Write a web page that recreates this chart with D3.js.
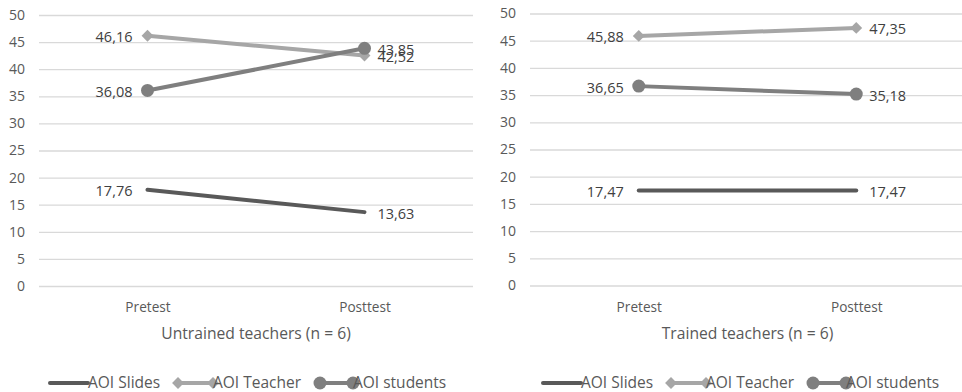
<!DOCTYPE html>
<html>
<head>
<meta charset="utf-8">
<script src="https://cdn.jsdelivr.net/npm/d3@7"></script>
<style>
  html, body { margin: 0; padding: 0; background: #fff; }
  svg { display: block; }
  .narrow { font-family: "Open Sans", sans-serif; }
</style>
</head>
<body>
<svg id="chart" width="962" height="392"></svg>
<script>
// Time categories and y ticks
const phases = ["Pretest", "Posttest"];
const yTicks = [0, 5, 10, 15, 20, 25, 30, 35, 40, 45, 50];

// Series names
const seriesNames = ["AOI Slides", "AOI Teacher", "AOI students"];

// Untrained teachers (n = 6)
const untrainedSlides = [17.76, 13.63];
const untrainedTeacher = [46.16, 42.52];
const untrainedStudents = [36.08, 43.85];

// Trained teachers (n = 6)
const trainedSlides = [17.47, 17.47];
const trainedTeacher = [45.88, 47.35];
const trainedStudents = [36.65, 35.18];

const panelTitles = ["Untrained teachers (n = 6)", "Trained teachers (n = 6)"];

const fmt = v => d3.format(".2f")(v).replace(".", ",");

const styles = [
  { color: "#595959", marker: null },
  { color: "#a6a6a6", marker: "diamond" },
  { color: "#7f7f7f", marker: "circle" }
];

const svg = d3.select("#chart");

function drawPanel(cfg) {
  const g = svg.append("g");
  const x = d3.scalePoint().domain(phases).range([cfg.left, cfg.right]).padding(0.5);
  const y = d3.scaleLinear().domain([0, 50]).range([cfg.bottom, cfg.top]);

  // gridlines + y labels
  const yAxis = g.append("g")
    .attr("transform", `translate(${cfg.left},0)`)
    .call(d3.axisLeft(y).tickValues(yTicks).tickSize(-(cfg.right - cfg.left)).tickPadding(cfg.tickPad));
  yAxis.select(".domain").remove();
  yAxis.selectAll(".tick line").attr("stroke", "#d9d9d9").attr("stroke-width", 1.3);
  yAxis.selectAll(".tick text")
    .attr("fill", "#595959")
    .style("font-family", "'Open Sans', sans-serif")
    .style("font-size", "14px");

  // x labels (slightly condensed)
  const xAxis = g.append("g")
    .attr("transform", `translate(0,${cfg.bottom})`)
    .call(d3.axisBottom(x).tickSize(0).tickPadding(16));
  xAxis.select(".domain").remove();
  xAxis.selectAll(".tick text")
    .attr("class", "narrow")
    .attr("fill", "#595959")
    .attr("transform", "scale(0.94,1)")
    .style("font-size", "14.5px");

  // panel title
  g.append("text")
    .attr("class", "narrow")
    .attr("transform", `translate(${(cfg.left + cfg.right) / 2},${cfg.bottom + 53}) scale(0.95,1)`)
    .attr("text-anchor", "middle")
    .attr("fill", "#595959")
    .style("font-size", "16.5px")
    .text(cfg.title);

  const line = d3.line().x((d, i) => x(phases[i])).y(d => y(d));

  cfg.series.forEach((vals, si) => {
    const st = styles[si];
    g.append("path")
      .datum(vals)
      .attr("d", line)
      .attr("fill", "none")
      .attr("stroke", st.color)
      .attr("stroke-width", 4)
      .attr("stroke-linecap", "round");

    vals.forEach((v, i) => {
      const cx = x(phases[i]), cy = y(v);
      if (st.marker === "circle") {
        g.append("circle").attr("cx", cx).attr("cy", cy).attr("r", 6.5).attr("fill", st.color);
      } else if (st.marker === "diamond") {
        g.append("path")
          .attr("d", d3.symbol(d3.symbolDiamond2, 90)())
          .attr("transform", `translate(${cx},${cy})`)
          .attr("fill", st.color);
      }
    });
  });

  // value labels: left of the pretest point, right of the posttest point
  cfg.series.forEach((vals, si) => {
    vals.forEach((v, i) => {
      const cx = x(phases[i]);
      g.append("text")
        .attr("x", i === 0 ? cx - 15 : cx + 13)
        .attr("y", y(v) + 1.5)
        .attr("dy", "0.35em")
        .attr("text-anchor", i === 0 ? "end" : "start")
        .attr("fill", "#404040")
        .style("font-family", "'Open Sans', sans-serif")
        .style("font-size", "14.5px")
        .text(fmt(v));
    });
  });

  // legend
  const lg = g.append("g").attr("transform", `translate(${cfg.legendX},${cfg.legendY})`);
  const items = [
    { lx: 0, tx: 38 },
    { lx: 128, tx: 163 },
    { lx: 270, tx: 303 }
  ];
  seriesNames.forEach((name, si) => {
    const st = styles[si];
    const it = items[si];
    lg.append("line")
      .attr("x1", it.lx).attr("x2", it.tx)
      .attr("y1", 0).attr("y2", 0)
      .attr("stroke", st.color).attr("stroke-width", 4)
      .attr("stroke-linecap", "round");
    if (st.marker === "circle") {
      [it.lx, it.tx].forEach(px => {
        lg.append("circle").attr("cx", px).attr("cy", 0).attr("r", 6.5).attr("fill", st.color);
      });
    } else if (st.marker === "diamond") {
      [it.lx, it.tx].forEach(px => {
        lg.append("path")
          .attr("d", d3.symbol(d3.symbolDiamond2, 90)())
          .attr("transform", `translate(${px},0)`)
          .attr("fill", st.color);
      });
    }
    lg.append("text")
      .attr("class", "narrow")
      .attr("transform", `translate(${it.tx},0)`)
      .attr("dy", "0.35em")
      .attr("fill", "#595959")
      .style("font-size", "15.5px")
      .text(name);
  });
}

drawPanel({
  left: 39, right: 473, top: 15, bottom: 286, tickPad: 14,
  title: panelTitles[0],
  series: [untrainedSlides, untrainedTeacher, untrainedStudents],
  legendX: 50, legendY: 383
});

drawPanel({
  left: 530, right: 965, top: 13.5, bottom: 285.5, tickPad: 14,
  title: panelTitles[1],
  series: [trainedSlides, trainedTeacher, trainedStudents],
  legendX: 543, legendY: 383
});
</script>
</body>
</html>
